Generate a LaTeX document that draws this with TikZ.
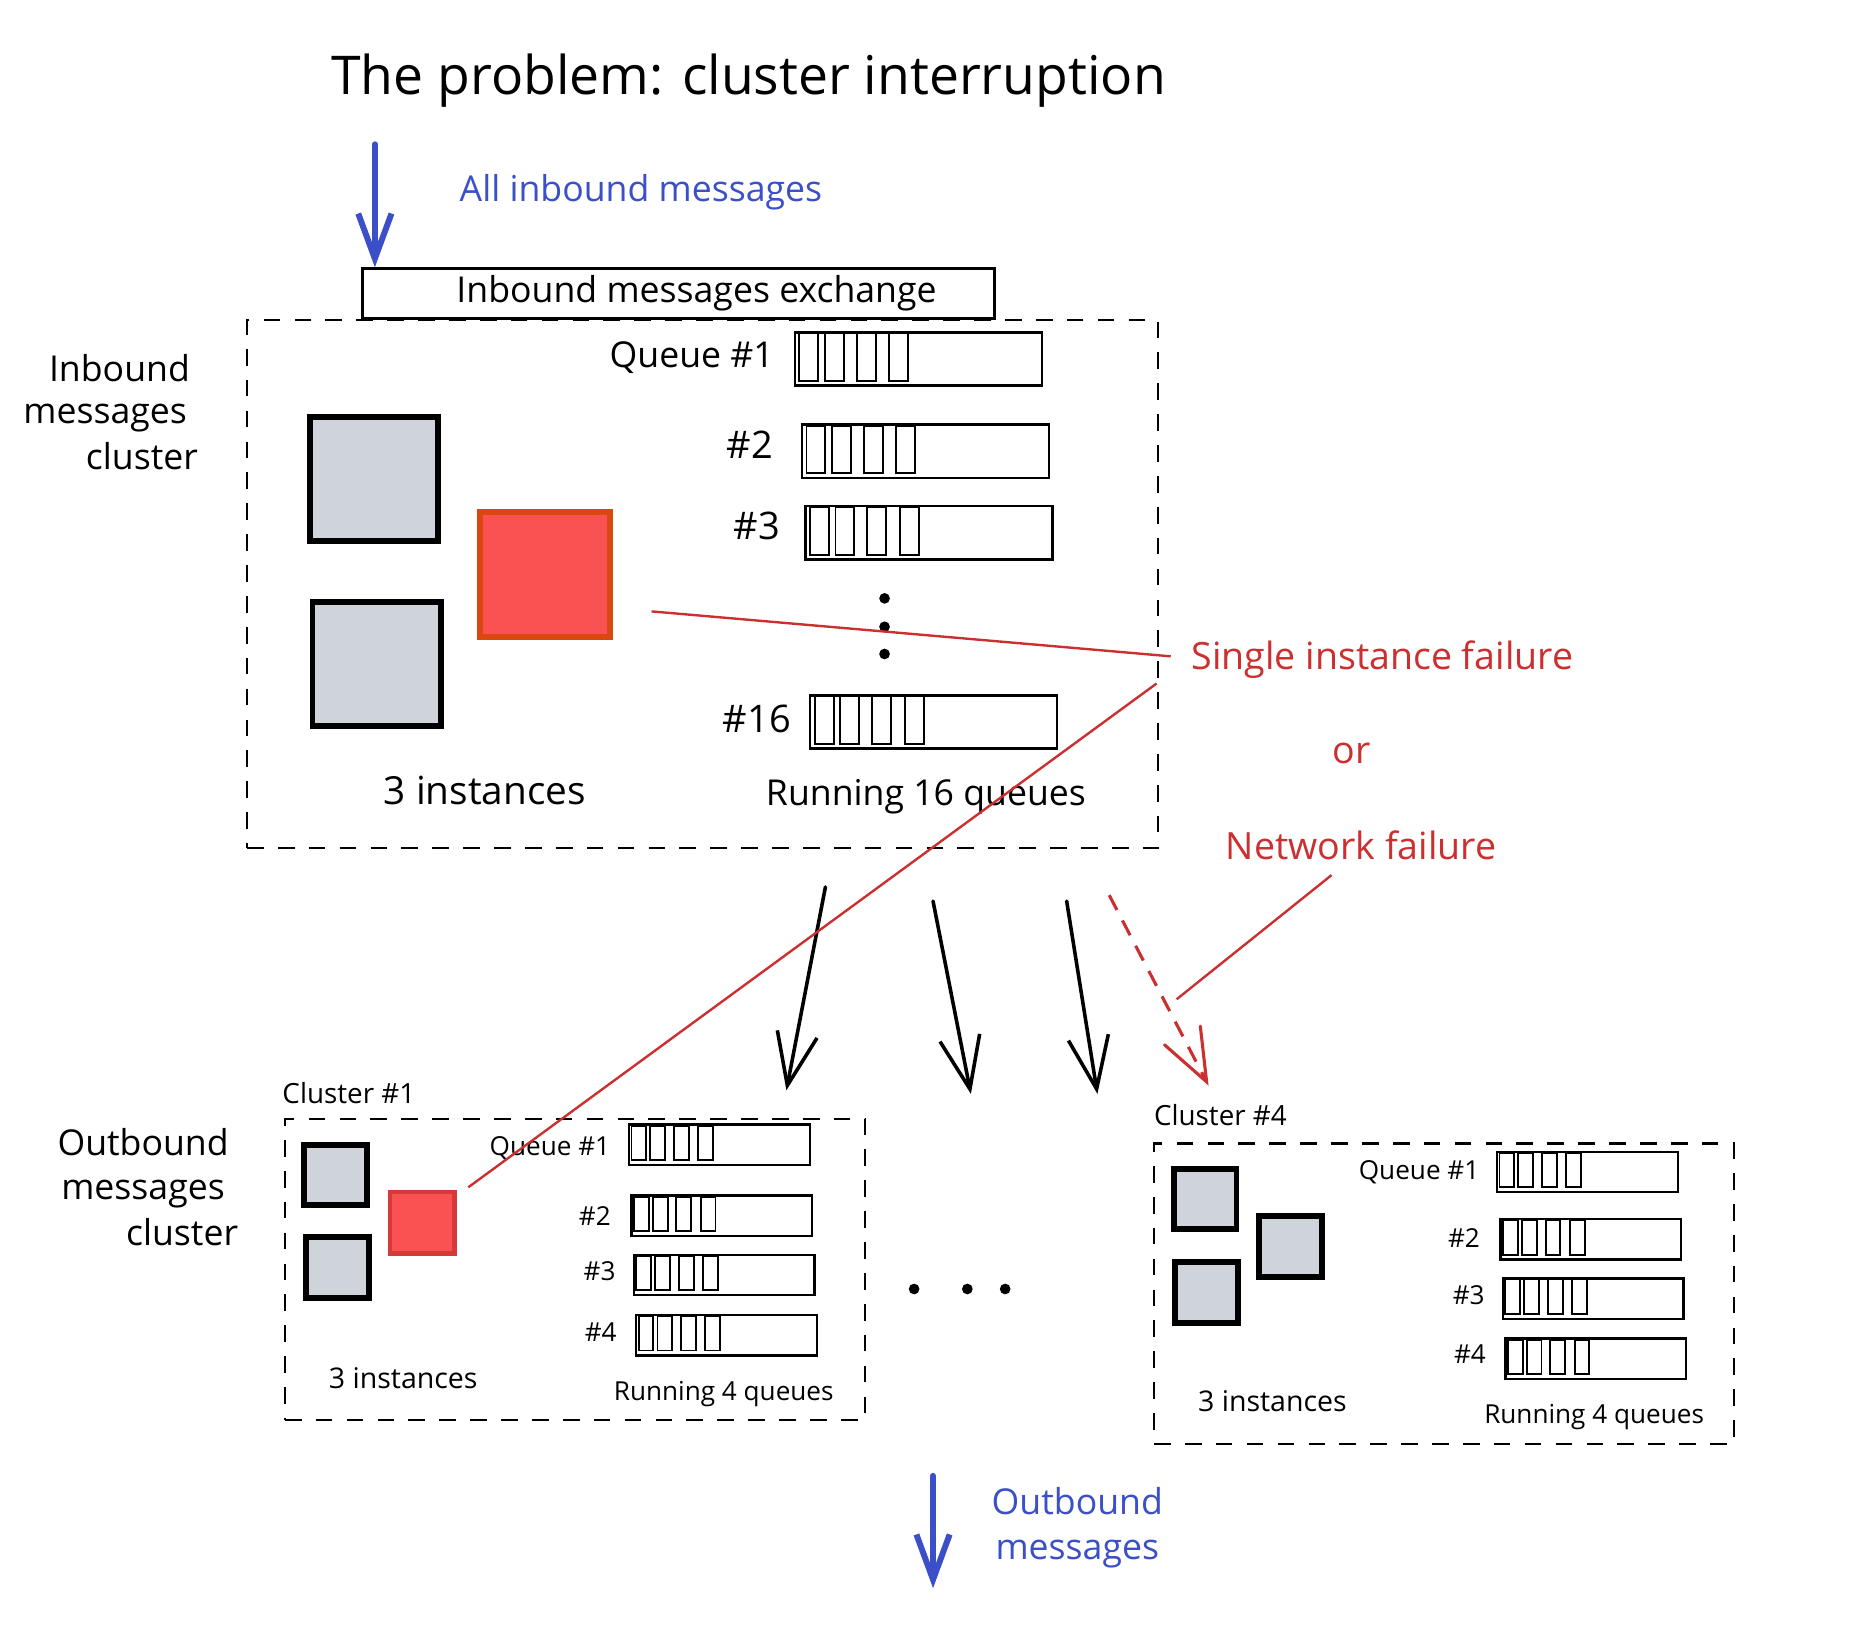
\documentclass[tikz,border=0pt]{standalone}
\usepackage{fontspec}
\setmainfont{Open Sans}
\usetikzlibrary{arrows.meta,calc}
\definecolor{sqgray}{HTML}{CED4DA}
\definecolor{redfill}{HTML}{FA5252}
\definecolor{redborderA}{HTML}{D9480F}
\definecolor{redborderB}{HTML}{D63939}
\definecolor{redink}{HTML}{CC2F2F}
\definecolor{blueink}{HTML}{3B4FC8}
\newcommand{\bigqueue}[3]{%
  \node[qbox, minimum width=104pt, minimum height=22.4pt] (#1) at (#2,#3) {};
  \foreach \o in {5,26.5,53.5,81}{\draw[cell] ($(#1.north west)+(\o,2)$) rectangle +(16,40);}
}
\newcommand{\smallqueue}[3]{%
  \node[qbox, minimum width=76pt, minimum height=17pt] (#1) at (#2,#3) {};
  \foreach \o in {3,19,39,59.5}{\draw[cell] ($(#1.north west)+(\o,2)$) rectangle +(12.5,29);}
}
\begin{document}
\begin{tikzpicture}[x=0.4977pt,y=-0.4977pt,
  txt/.style={anchor=base, inner sep=0, font=\fontsize{15}{18}\selectfont},
  smalltxt/.style={anchor=base, inner sep=0, font=\fontsize{11}{13}\selectfont},
  titletxt/.style={anchor=base, inner sep=0, font=\fontsize{22.5}{26}\selectfont},
  redtxt/.style={anchor=base, inner sep=0, text=redink, font=\fontsize{15.8}{18}\selectfont},
  bigsq/.style={draw=black, line width=2.5pt, fill=sqgray, inner sep=0, minimum width=54pt, minimum height=52.5pt},
  smallsq/.style={draw=black, line width=2.5pt, fill=sqgray, inner sep=0, minimum width=26.5pt, minimum height=25.5pt},
  cluster/.style={draw, dash pattern=on 7pt off 6pt, line width=0.9pt, inner sep=0, anchor=north west},
  qbox/.style={draw, line width=1pt, inner sep=0, anchor=north west},
  cell/.style={draw, line width=0.8pt},
  bluearrow/.style={draw=blueink, line width=2.5pt, line cap=round, -{Straight Barb[length=19pt,width=14pt]}},
  flowarrow/.style={draw=black, line width=1.5pt, line cap=round, -{Straight Barb[length=22pt,width=17pt]}},
  redarrow/.style={draw=redink, line width=1.3pt, dash pattern=on 7pt off 5pt, -{Straight Barb[length=22pt,width=17pt,line cap=round]}},
  redline/.style={draw=redink, line width=1pt},
  dot/.style={circle, fill=black, inner sep=0, minimum size=4.5pt}
]
\path[fill=white, use as bounding box] (0,0) rectangle (1567.8,1381.9);

% title
\node[titletxt] (title) at (633,80) {The problem: cluster interruption};

% inbound arrow
\coordinate (inTop) at (317,122);
\node[txt, text=blueink] (allin) at (542,170) {All inbound messages};

% exchange
\node[draw, line width=1.2pt, inner sep=0, anchor=north west, minimum width=266pt, minimum height=21pt] (exch) at (305,226) {};
\node[txt] (exchtxt) at (589,256) {Inbound messages exchange};
\draw[bluearrow] (inTop) -- (exch.north west -| inTop);

% inbound cluster
\node[cluster, minimum width=383.5pt, minimum height=222pt] (incl) at (208,270) {};
\node[txt] (inl1) at (101,323) {Inbound};
\node[txt] (inl2) at (89,358) {messages};
\node[txt] (inl3) at (120,397) {cluster};

\node[bigsq] (ig1) at (316.5,405) {};
\node[bigsq, minimum height=52pt] (ig2) at (318.5,561.5) {};
\node[bigsq, fill=redfill, draw=redborderA, minimum width=54.5pt] (ired) at (461,486) {};

\node[txt] (iq1l) at (585,311) {Queue \#1};
\bigqueue{iq1}{671}{280}
\node[txt, font=\fontsize{16}{18}\selectfont] (iq2l) at (634,388) {\#2};
\bigqueue{iq2}{677}{358}
\node[txt, font=\fontsize{16}{18}\selectfont] (iq3l) at (640,456) {\#3};
\bigqueue{iq3}{680}{427}
\node[dot] (vd1) at (748,506) {};
\node[dot] (vd2) at (748,530) {};
\node[dot] (vd3) at (748,553) {};
\node[txt, font=\fontsize{16}{18}\selectfont] (iq16l) at (640,619) {\#16};
\bigqueue{iq16}{684}{587}
\node[txt, font=\fontsize{16.3}{18}\selectfont] (iinst) at (410,680) {3 instances};
\node[txt] (irun) at (783,681) {Running 16 queues};

% failure texts
\node[redtxt] (sif) at (1169,566) {Single instance failure};
\node[redtxt] (ortxt) at (1143,646) {or};
\node[redtxt] (netf) at (1151,727) {Network failure};

% flow arrows
\coordinate (a1s) at (698,750); \coordinate (a1e) at (665,922);
\coordinate (a2s) at (789,762); \coordinate (a2e) at (821,925);
\coordinate (a3s) at (902,762); \coordinate (a3e) at (928,925);
\coordinate (a4s) at (938,757); \coordinate (a4e) at (1022,918);
\draw[flowarrow] (a1s) -- (a1e);
\draw[flowarrow] (a2s) -- (a2e);
\draw[flowarrow] (a3s) -- (a3e);
\draw[redarrow] (a4s) -- (a4e);

% cluster 1
\node[smalltxt, font=\fontsize{11.7}{13}\selectfont] (c1lab) at (295,933) {Cluster \#1};
\node[cluster, minimum width=244pt, minimum height=127pt] (c1) at (240,945) {};
\node[txt] (ol1) at (121,977) {Outbound};
\node[txt] (ol2) at (121,1014) {messages};
\node[txt] (ol3) at (154,1053) {cluster};
\node[smallsq] (c1g1) at (284,993.5) {};
\node[smallsq] (c1g2) at (285.5,1072) {};
\node[smallsq, fill=redfill, draw=redborderB, line width=2pt, minimum width=27pt, minimum height=26pt] (c1red) at (357,1034) {};
\node[smalltxt] (c1q1l) at (465,977) {Queue \#1};
\smallqueue{c1q1}{531}{950}
\node[smalltxt] (c1q2l) at (503,1036) {\#2};
\smallqueue{c1q2}{533}{1010}
\node[smalltxt] (c1q3l) at (507,1083) {\#3};
\smallqueue{c1q3}{535}{1060}
\node[smalltxt] (c1q4l) at (508,1134) {\#4};
\smallqueue{c1q4}{537}{1111}
\node[smalltxt, font=\fontsize{12}{13}\selectfont] (c1inst) at (341,1174) {3 instances};
\node[smalltxt] (c1run) at (612,1184) {Running 4 queues};

% horizontal dots
\node[dot] (hd1) at (773,1090) {};
\node[dot] (hd2) at (818,1090) {};
\node[dot] (hd3) at (850,1090) {};

% cluster 4
\node[smalltxt, font=\fontsize{11.7}{13}\selectfont] (c4lab) at (1032,952) {Cluster \#4};
\node[cluster, minimum width=244pt, minimum height=126.5pt] (c4) at (975,966) {};
\node[smallsq] (c4g1) at (1019,1014) {};
\node[smallsq] (c4g2) at (1091.5,1054) {};
\node[smallsq] (c4g3) at (1020,1093) {};
\node[smalltxt] (c4q1l) at (1200,997) {Queue \#1};
\smallqueue{c4q1}{1265}{973}
\node[smalltxt] (c4q2l) at (1238,1055) {\#2};
\smallqueue{c4q2}{1268}{1030}
\node[smalltxt] (c4q3l) at (1242,1103) {\#3};
\smallqueue{c4q3}{1270}{1080}
\node[smalltxt] (c4q4l) at (1243,1153) {\#4};
\smallqueue{c4q4}{1272}{1131}
\node[smalltxt, font=\fontsize{12}{13}\selectfont] (c4inst) at (1076,1194) {3 instances};
\node[smalltxt] (c4run) at (1348,1204) {Running 4 queues};

% red failure lines
\coordinate (r1s) at (551,517); \coordinate (r1e) at (990,555);
\coordinate (r2s) at (978,578); \coordinate (r2e) at (396,1004);
\coordinate (r3s) at (1126,740); \coordinate (r3e) at (995,845);
\draw[redline] (r1s) -- (r1e);
\draw[redline] (r2s) -- (r2e);
\draw[redline] (r3s) -- (r3e);

% outbound arrow
\coordinate (outTop) at (789,1248); \coordinate (outEnd) at (789,1343);
\draw[bluearrow] (outTop) -- (outEnd);
\node[txt, text=blueink] (ob1) at (911,1281) {Outbound};
\node[txt, text=blueink] (ob2) at (911,1319) {messages};
\end{tikzpicture}
\end{document}
